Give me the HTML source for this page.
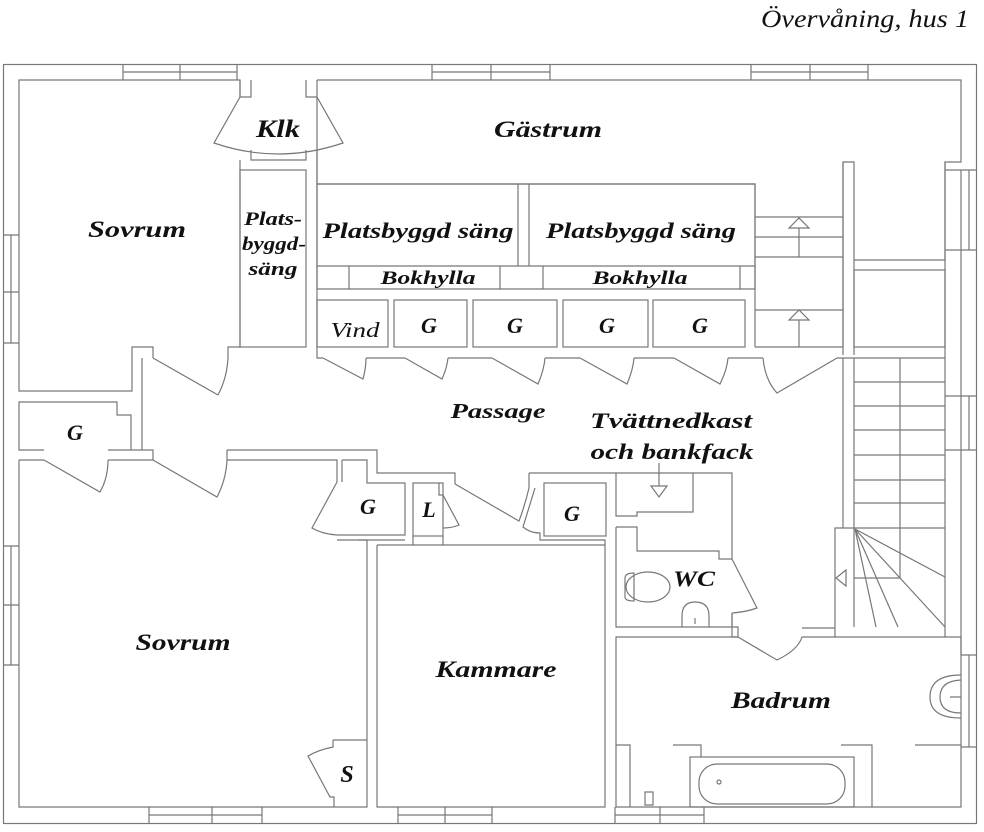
<!DOCTYPE html>
<html><head><meta charset="utf-8"><style>
html,body{margin:0;padding:0;background:#fff}
svg{display:block}
text{font-family:"Liberation Serif",serif;font-style:italic;font-weight:bold;fill:#111;text-anchor:middle}
</style></head><body>
<svg width="984" height="832" viewBox="0 0 984 832" xmlns="http://www.w3.org/2000/svg">
<text x="865" y="27" style="font-weight:normal;font-size:25px" textLength="208" lengthAdjust="spacingAndGlyphs">Övervåning, hus 1</text>
<g fill="none" stroke="#777" stroke-width="1.2">
<rect x="3.5" y="64.5" width="973" height="759"/>
<path d="M123 64V80M237 64V80M123 72H237M180 64V80"/>
<path d="M432 64V80M550 64V80M432 72H550M491 64V80"/>
<path d="M751 64V80M868 64V80M751 72H868M810 64V80"/>
<path d="M3 235H19M3 343H19M11 235V343M3 292H19"/>
<path d="M3 546H19M3 665H19M11 546V665M3 605H19"/>
<path d="M149 807V823M262 807V823M149 815H262M212 807V823"/>
<path d="M398 807V823M492 807V823M398 815H492M445 807V823"/>
<path d="M615 807V823M704 807V823M615 815H704M660 807V823"/>
<path d="M945 170H977M945 250H977M961 170V250M969 170V250"/>
<path d="M945 396H977M945 450H977M961 396V450M969 396V450"/>
<path d="M961 655H977M961 747H977M969 655V747"/>
<path d="M961 250V396M961 450V655"/>
<path d="M240 97V80H19V391H132V347H153V358"/>
<path d="M153 358L218 395M218 395Q227 378 228 358"/>
<path d="M228 358V347H240V160"/>
<path d="M240 80V97H251V80M306 80V97H317V80"/>
<path d="M240 97L214 143Q278 165 343 143L317 97"/>
<path d="M251 150V160H306V150M317 150V347"/>
<rect x="240" y="170" width="66" height="177"/>
<path d="M317 80H961V162H945V260H854V162H843V217H755V184H317V97"/>
<path d="M317 184H755V289H317Z"/>
<path d="M518 184V266M529 184V266M317 266H755M349 266V289M500 266V289M543 266V289M740 266V289"/>
<path d="M755 217V347M755 237H843M755 257H843M755 310H843M843 217V347M755 347H843"/>
<path d="M799 257V228M789 228L799 218L809 228Z M799 347V320M789 320L799 310L809 320Z"/>
<path d="M843 162V355M854 260V355"/>
<rect x="854" y="270" width="91" height="77"/>
<path d="M945 162V637"/>
<rect x="317" y="300" width="71" height="47"/>
<rect x="394" y="300" width="73" height="47"/>
<rect x="473" y="300" width="84" height="47"/>
<rect x="563" y="300" width="85" height="47"/>
<rect x="653" y="300" width="92" height="47"/>
<path d="M317 347V358H323M366 358H405M448 358H492M545 358H580M634 358H674M728 358H763M837 358H854"/>
<path d="M323 358L363 379Q366 368 366 358"/>
<path d="M405 358L442 379Q447 368 448 358"/>
<path d="M492 358L538 384Q544 370 545 358"/>
<path d="M580 358L627 384Q633 370 634 358"/>
<path d="M674 358L720 384Q727 370 728 358"/>
<path d="M763 358Q765 380 777 393L837 358"/>
<path d="M142 358V450H131V415H117V402H19V450H44M108 450H131"/>
<path d="M44 460L100 492Q108 478 108 460"/>
<path d="M19 460H44M108 460H153"/>
<path d="M153 460L217 497Q226 480 227 460"/>
<path d="M142 450H153V460M227 450V460"/>
<path d="M227 450H377V473H455V484"/>
<path d="M227 460H337V482M342 460V482M342 460H367V483H405V535H337"/>
<path d="M337 482L312 528Q322 534 337 535"/>
<path d="M337 540H367V807H19V460"/>
<rect x="413" y="483" width="30" height="53"/>
<path d="M439 483V495H443M443 495L459 525Q452 528 443 528"/>
<path d="M405 540H359M377 545V807H605V545H377M413 536V545M443 536V545"/>
<path d="M455 484L519 521Q525 505 529 488"/>
<path d="M529 473V488M529 473H732V559"/>
<path d="M535 488L523 527Q530 533 540 533V540H605V545"/>
<rect x="544" y="483" width="62" height="53"/>
<path d="M333 740H367M333 740V747Q318 750 308 756L330 797H334V807"/>
<path d="M616 473V516H637V512H693V473"/>
<path d="M659 463V486H651L659 497L667 486H659"/>
<path d="M616 527H637V551H719V559H732"/>
<path d="M616 527V627H732V613"/>
<path d="M732 559L757 608Q746 612 732 613"/>
<path d="M732 613V637H738M732 627H738V637"/>
<ellipse cx="648" cy="587" rx="22" ry="15"/>
<path d="M634 573Q625 573 625 578V597Q625 601 634 601Z"/>
<path d="M682 627V616Q682 602 695 602Q709 602 709 616V627"/>
<path d="M695 618V624"/>
<path d="M616 637H738L777 660Q798 650 802 637H961V807H616Z"/>
<path d="M802 628H835V528H854M835 627V637"/>
<path d="M616 745H630V807M673 745H701V757M841 745H872V807M915 745H961"/>
<rect x="690" y="757" width="164" height="50"/>
<rect x="699" y="764" width="146" height="40" rx="18"/>
<circle cx="719" cy="782" r="2"/>
<path d="M645 805V792H653V805Z"/>
<path d="M961 675Q930 675 930 697Q930 718 961 718"/>
<path d="M961 680Q940 681 940 697Q940 713 961 713M950 697H961"/>
<path d="M854 358V627M854 358H945M854 382H945M854 406H945M854 430H945M854 455H945M854 480H945M854 503H945M854 528H945M900 358V578M854 578H900"/>
<path d="M855 529L945 577M855 529L945 627M855 529L898 627M855 529L876 627"/>
<path d="M846 570L836 578L846 586Z"/>
<path d="M843 358V528"/>
</g>
<g>
<text x="278" y="137" font-size="25" textLength="44" lengthAdjust="spacingAndGlyphs">Klk</text>
<text x="548" y="137" font-size="23" textLength="108" lengthAdjust="spacingAndGlyphs">Gästrum</text>
<text x="137" y="237" font-size="23" textLength="98" lengthAdjust="spacingAndGlyphs">Sovrum</text>
<text x="273" y="225" font-size="19" textLength="58" lengthAdjust="spacingAndGlyphs">Plats-</text>
<text x="274" y="250" font-size="19" textLength="64" lengthAdjust="spacingAndGlyphs">byggd-</text>
<text x="273" y="275" font-size="19" textLength="49" lengthAdjust="spacingAndGlyphs">säng</text>
<text x="418" y="238" font-size="22" textLength="191" lengthAdjust="spacingAndGlyphs">Platsbyggd säng</text>
<text x="641" y="238" font-size="22" textLength="190" lengthAdjust="spacingAndGlyphs">Platsbyggd säng</text>
<text x="428" y="284" font-size="19" textLength="95" lengthAdjust="spacingAndGlyphs">Bokhylla</text>
<text x="640" y="284" font-size="19" textLength="95" lengthAdjust="spacingAndGlyphs">Bokhylla</text>
<text x="355" y="337" font-size="21" style="font-weight:normal" textLength="49" lengthAdjust="spacingAndGlyphs">Vind</text>
<text x="429" y="333" font-size="22">G</text>
<text x="515" y="333" font-size="22">G</text>
<text x="607" y="333" font-size="22">G</text>
<text x="700" y="333" font-size="22">G</text>
<text x="75" y="440" font-size="22">G</text>
<text x="498" y="418" font-size="21" textLength="95" lengthAdjust="spacingAndGlyphs">Passage</text>
<text x="671" y="428" font-size="22" textLength="162" lengthAdjust="spacingAndGlyphs">Tvättnedkast</text>
<text x="672" y="459" font-size="22" textLength="163" lengthAdjust="spacingAndGlyphs">och bankfack</text>
<text x="368" y="514" font-size="22">G</text>
<text x="429" y="517" font-size="22">L</text>
<text x="572" y="521" font-size="22">G</text>
<text x="694" y="586" font-size="22" textLength="42" lengthAdjust="spacingAndGlyphs">WC</text>
<text x="183" y="650" font-size="23" textLength="95" lengthAdjust="spacingAndGlyphs">Sovrum</text>
<text x="496" y="677" font-size="23" textLength="121" lengthAdjust="spacingAndGlyphs">Kammare</text>
<text x="781" y="708" font-size="23" textLength="100" lengthAdjust="spacingAndGlyphs">Badrum</text>
<text x="347" y="782" font-size="24">S</text>
</g>
</svg>
</body></html>
